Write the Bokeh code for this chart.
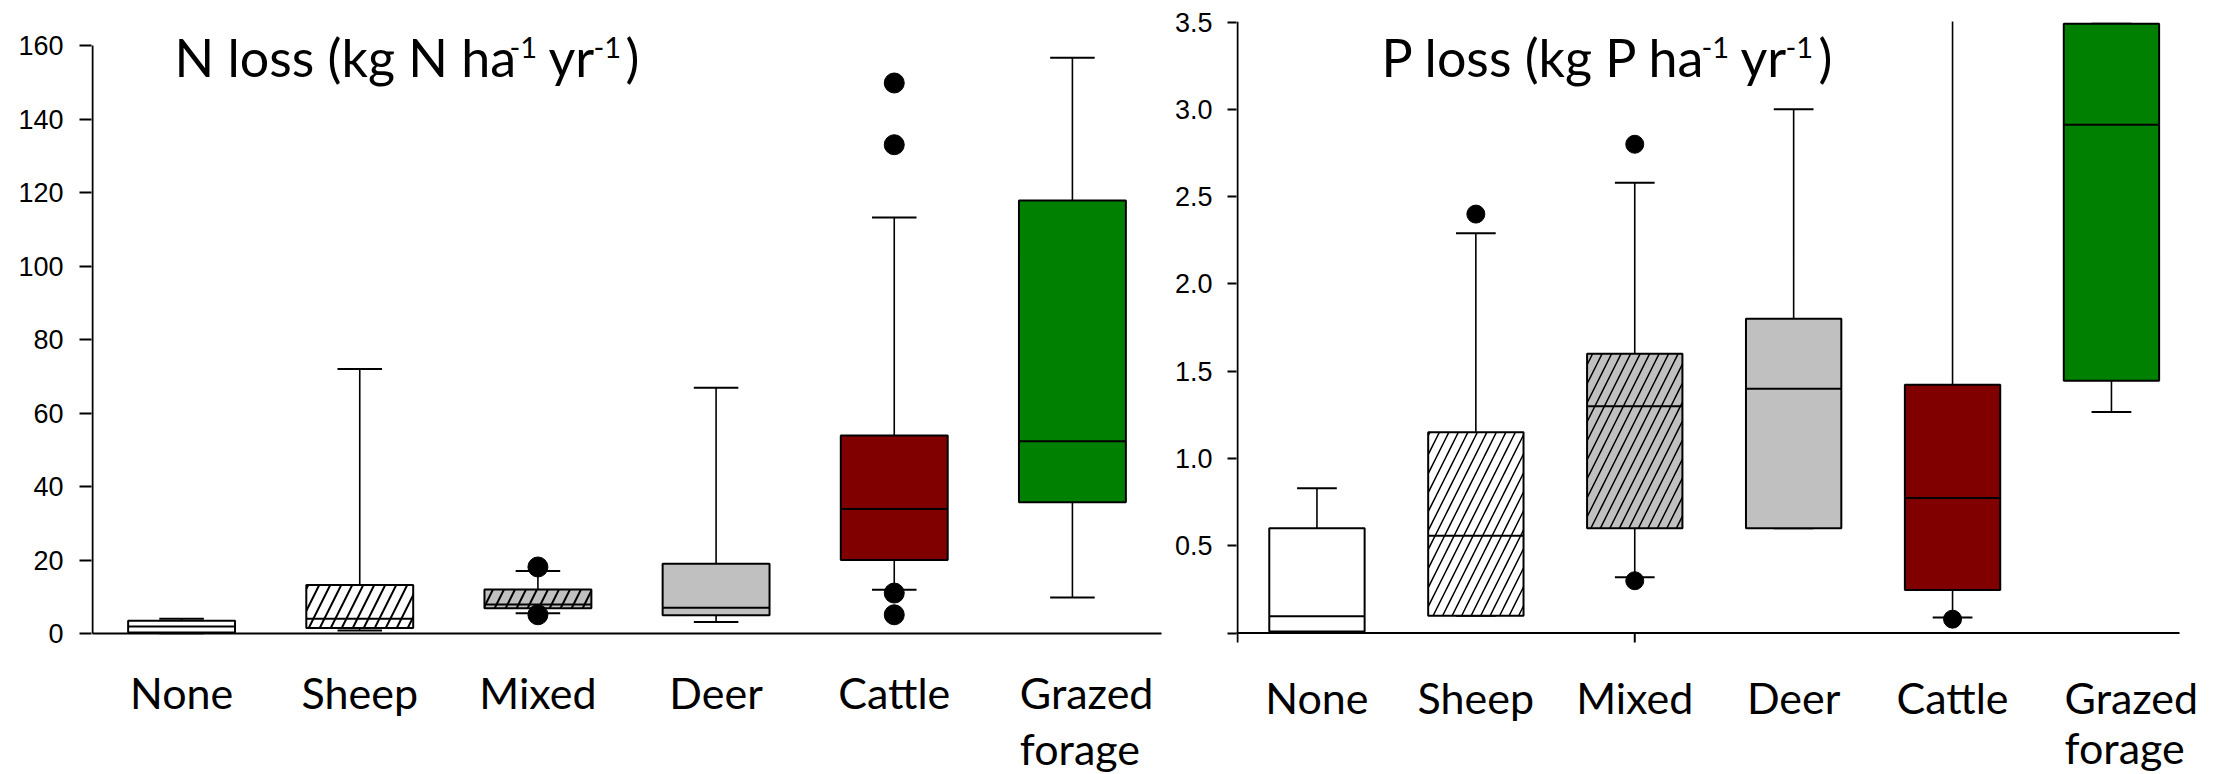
import numpy as np
from bokeh.plotting import figure
from bokeh.layouts import row
from bokeh.models import Range1d, FixedTicker, Label, ColumnDataSource
from bokeh.embed import file_html
from bokeh.resources import INLINE

# ---------------- data ----------------
categories = ["None", "Sheep", "Mixed", "Deer", "Cattle", "Grazed forage"]
tick_labels = ["None", "Sheep", "Mixed", "Deer", "Cattle", "Grazed", "forage"]
fill_colors = ["#FFFFFF", "#FFFFFF", "#C0C0C0", "#C0C0C0", "#800000", "#008000"]
hatches = [" ", "/", "/", " ", " ", " "]

# N loss (kg N ha-1 yr-1)
n_lower = [0.1, 0.8, 5.5, 3.1, 11.9, 9.8]
n_q1 = [0.3, 1.5, 6.9, 5.0, 20.0, 35.7]
n_median = [1.9, 4.0, 7.9, 7.0, 33.9, 52.3]
n_q3 = [3.5, 13.2, 12.0, 19.0, 53.9, 117.8]
n_upper = [4.0, 72.0, 17.0, 66.9, 113.2, 156.7]
n_out_cat = ["Mixed", "Mixed", "Cattle", "Cattle", "Cattle", "Cattle"]
n_out_val = [18.1, 5.1, 149.8, 133.0, 11.0, 5.1]
n_yticks = [0, 20, 40, 60, 80, 100, 120, 140, 160]

# P loss (kg P ha-1 yr-1)
p_lower = [0.01, 0.1, 0.32, 0.6, 0.09, 1.267]
p_q1 = [0.01, 0.1, 0.6, 0.6, 0.247, 1.446]
p_median = [0.096, 0.557, 1.3, 1.4, 0.774, 2.912]
p_q3 = [0.6, 1.15, 1.6, 1.8, 1.423, 3.49]
p_upper = [0.83, 2.29, 2.58, 3.0, 4.0, 3.49]
p_out_cat = ["Sheep", "Mixed", "Mixed", "Cattle"]
p_out_val = [2.40, 2.80, 0.30, 0.08]
p_yticks = [0, 0.5, 1.0, 1.5, 2.0, 2.5, 3.0, 3.5]
p_ytick_labels = ["", "0.5", "1.0", "1.5", "2.0", "2.5", "3.0", "3.5"]

# ---------------- layout (pixels) ----------------
H = 774
L_W, L_AX, L_END, L_TOP, L_ZERO = 1165, 92, 1161, 45, 633
L_XPPU = (L_END - L_AX) / 6.0
L_YPPU = (L_ZERO - L_TOP) / 160.0
R_X0 = 1165
R_W = 2214 - R_X0
R_AX, R_LINE_END, R_TOP, R_AXBOT = 1237, 2179, 21, 642
R_XPPU = 158.9
R_YPPU = 174.6
R_YMAX = 3.503

BOX_W = 0.6
CAP_W = 0.25
LABEL_FONT = "Lato"
TICK_FONT = "Liberation Sans"
BASE_FIX = 0.3          # label baseline correction, in em
TITLE_PX, SUP_PX, CAT_PX = 52, 29, 43


def style(p):
    if hasattr(p, "frame_align"):
        p.frame_align = False
    p.xgrid.visible = False
    p.ygrid.visible = False
    p.outline_line_color = None
    p.background_fill_color = "white"
    p.border_fill_color = "white"
    ay = p.yaxis[0]
    ay.axis_line_color = None
    ay.minor_tick_line_color = None
    ay.major_tick_in = 0
    ay.major_label_text_font = TICK_FONT
    ay.major_label_text_font_size = "27px"
    ay.major_label_text_color = "black"
    ay.major_tick_line_color = "black"
    ay.major_tick_line_width = 2


def draw_boxes(p, lower, q1, med, q3, upper, out_cat, out_val, hs, hw, ms):
    x = np.arange(len(categories), dtype=float)
    lower, q1, med, q3, upper = map(np.asarray, (lower, q1, med, q3, upper))
    p.segment(x0=x, y0=q3, x1=x, y1=upper, line_color="black", line_width=1.6)
    p.segment(x0=x, y0=lower, x1=x, y1=q1, line_color="black", line_width=1.6)
    p.segment(x0=x - CAP_W / 2, y0=upper, x1=x + CAP_W / 2, y1=upper, line_color="black", line_width=2)
    p.segment(x0=x - CAP_W / 2, y0=lower, x1=x + CAP_W / 2, y1=lower, line_color="black", line_width=2)
    src = ColumnDataSource(dict(x=x, top=q3, bottom=q1, fill=fill_colors, hatch=hatches))
    p.vbar(x="x", width=BOX_W, top="top", bottom="bottom", source=src,
           fill_color="fill", hatch_pattern="hatch", hatch_color="black",
           hatch_scale=hs, hatch_weight=hw, line_color="black", line_width=2)
    p.segment(x0=x - BOX_W / 2, y0=med, x1=x + BOX_W / 2, y1=med, line_color="black", line_width=2)
    ox = [categories.index(c) for c in out_cat]
    p.scatter(x=ox, y=out_val, size=ms, marker="circle", fill_color="black", line_color="black")


def text_label(p, x, py, to_y, text, size, align):
    p.add_layout(Label(x=x, y=to_y(py - BASE_FIX * size), text=text,
                       text_font=LABEL_FONT, text_font_size=f"{size}px",
                       text_color="black", text_align=align, text_baseline="alphabetic"))


def add_title(p, pieces, to_x, to_y):
    for text, px, big in pieces:
        if big:
            text_label(p, to_x(px), 72, to_y, text, TITLE_PX, "left")
        else:
            text_label(p, to_x(px), 56, to_y, text, SUP_PX, "left")


def add_category_labels(p, to_y, base1, base2):
    n = len(categories)
    for i in range(n - 1):
        text_label(p, i, base1, to_y, tick_labels[i], CAT_PX, "center")
    gx = (n - 1) - 0.295
    text_label(p, gx, base1, to_y, tick_labels[n - 1], CAT_PX, "left")
    text_label(p, gx, base2, to_y, tick_labels[n], CAT_PX, "left")


# ---------------- left panel: N loss ----------------
l_to_x = lambda px: -0.5 + (px - L_AX) / L_XPPU
l_to_y = lambda py: (L_ZERO - py) / L_YPPU
p1 = figure(width=L_W, height=H,
            x_range=Range1d(l_to_x(L_AX - 1), l_to_x(L_W)),
            y_range=Range1d(l_to_y(H), l_to_y(0)),
            x_axis_location=None, output_backend="svg", toolbar_location=None,
            min_border_left=L_AX - 1, min_border_right=0,
            min_border_top=0, min_border_bottom=0)
style(p1)
p1.yaxis[0].ticker = FixedTicker(ticks=n_yticks)
p1.yaxis[0].major_tick_out = 12
p1.yaxis[0].major_label_standoff = 16
p1.segment(x0=[-0.5], y0=[0], x1=[-0.5], y1=[n_yticks[-1]], line_color="black", line_width=2)
p1.segment(x0=[-0.5], y0=[0], x1=[len(categories) - 0.5], y1=[0], line_color="black", line_width=2)
draw_boxes(p1, n_lower, n_q1, n_median, n_q3, n_upper, n_out_cat, n_out_val, 22, 2.0, 20)
add_title(p1, [("N loss (kg N ha", 174, True), ("-1", 509, False), ("yr", 548, True),
               ("-1", 593, False), (")", 625, True)], l_to_x, l_to_y)
add_category_labels(p1, l_to_y, 705, 761)

# ---------------- right panel: P loss ----------------
r_to_x = lambda px: -0.5 + (px - R_AX) / R_XPPU
r_to_y = lambda py: R_YMAX - (py - R_TOP) / R_YPPU
p2 = figure(width=R_W, height=H,
            x_range=Range1d(r_to_x(R_AX - 1), r_to_x(2214)),
            y_range=Range1d(r_to_y(H), R_YMAX),
            x_axis_location=None, output_backend="svg", toolbar_location=None,
            min_border_left=R_AX - 1 - R_X0, min_border_right=0,
            min_border_top=R_TOP, min_border_bottom=0)
style(p2)
p2.yaxis[0].ticker = FixedTicker(ticks=p_yticks)
p2.yaxis[0].major_label_overrides = {t: s for t, s in zip(p_yticks, p_ytick_labels)}
p2.yaxis[0].major_tick_out = 9
p2.yaxis[0].major_label_standoff = 15
r_bot = r_to_y(R_AXBOT)
p2.segment(x0=[-0.5], y0=[r_bot], x1=[-0.5], y1=[R_YMAX], line_color="black", line_width=2)
p2.segment(x0=[r_to_x(R_AX - 6)], y0=[0], x1=[r_to_x(R_LINE_END)], y1=[0], line_color="black", line_width=2)
mixed_i = categories.index("Mixed")
p2.segment(x0=[mixed_i], y0=[r_bot], x1=[mixed_i], y1=[0], line_color="black", line_width=2)
draw_boxes(p2, p_lower, p_q1, p_median, p_q3, p_upper, p_out_cat, p_out_val, 19, 1.5, 18)
add_title(p2, [("P loss (kg P ha", 1381, True), ("-1", 1701, False), ("yr", 1740, True),
               ("-1", 1785, False), (")", 1818, True)], r_to_x, r_to_y)
add_category_labels(p2, r_to_y, 710, 760)

layout = row(p1, p2)
open("out.html", "w").write(file_html(layout, INLINE))
